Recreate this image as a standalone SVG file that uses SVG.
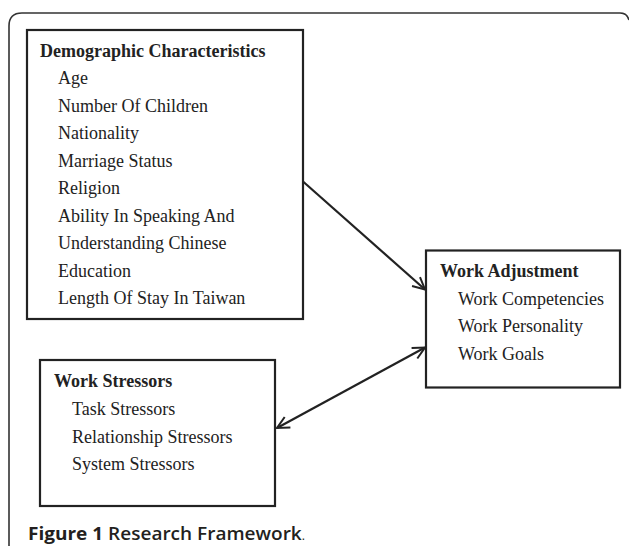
<svg xmlns="http://www.w3.org/2000/svg" width="629" height="549" viewBox="0 0 629 549">
<defs>
<style>
.box{fill:#fff;stroke:#222;stroke-width:2.2}
.hd{font-family:"Liberation Serif","Times New Roman",serif;font-size:18px;font-weight:bold;fill:#222}
.it{font-family:"Liberation Serif","Times New Roman",serif;font-size:18px;fill:#222}
.con{fill:none;stroke:#222;stroke-width:2.2}
.cap{font-family:"Open Sans","Liberation Sans",sans-serif;font-size:18.5px;fill:#231f20}
</style>
<marker id="ah" viewBox="0 0 14 14" refX="13" refY="7" markerWidth="14" markerHeight="14" markerUnits="userSpaceOnUse" orient="auto-start-reverse">
<path d="M1,1 L13,7 L1,13" fill="none" stroke="#222" stroke-width="2"/>
</marker>
</defs>
<rect width="629" height="549" fill="#fff"/>
<path d="M9,546 V26 Q9,13 22,13 H620 Q627,13 629,20" fill="none" stroke="#333" stroke-width="1.6"/>
<g id="demographic">
<rect class="box" x="27" y="30" width="276" height="289"/>
<text class="hd" x="40" y="57">Demographic Characteristics</text>
<text class="it" x="58" y="84">Age</text>
<text class="it" x="58" y="111.5">Number Of Children</text>
<text class="it" x="58" y="139">Nationality</text>
<text class="it" x="58" y="166.5">Marriage Status</text>
<text class="it" x="58" y="194">Religion</text>
<text class="it" x="58" y="221.5">Ability In Speaking And</text>
<text class="it" x="58" y="249">Understanding Chinese</text>
<text class="it" x="58" y="276.5">Education</text>
<text class="it" x="58" y="304">Length Of Stay In Taiwan</text>
</g>
<g id="adjustment">
<rect class="box" x="426" y="250.5" width="194" height="137"/>
<text class="hd" x="440" y="277">Work Adjustment</text>
<text class="it" x="458" y="304.5">Work Competencies</text>
<text class="it" x="458" y="332">Work Personality</text>
<text class="it" x="458" y="359.5">Work Goals</text>
</g>
<g id="stressors">
<rect class="box" x="40" y="360" width="235" height="146"/>
<text class="hd" x="54" y="387">Work Stressors</text>
<text class="it" x="72" y="415">Task Stressors</text>
<text class="it" x="72" y="442.5">Relationship Stressors</text>
<text class="it" x="72" y="470">System Stressors</text>
</g>
<g id="connectors">
<line class="con" x1="303" y1="181.5" x2="425" y2="289.5" marker-end="url(#ah)"/>
<line class="con" x1="277" y1="428" x2="425" y2="347.5" marker-start="url(#ah)" marker-end="url(#ah)"/>
</g>
<text class="cap" x="28" y="540" textLength="277" lengthAdjust="spacingAndGlyphs"><tspan font-weight="bold">Figure 1</tspan> <tspan font-weight="600">Research Framework</tspan><tspan font-size="12">.</tspan></text>
</svg>
